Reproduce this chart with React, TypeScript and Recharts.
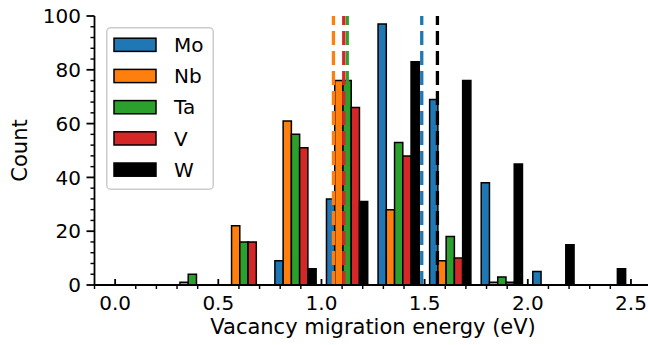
import React from 'react';
import { ComposedChart, Bar, XAxis, YAxis, ReferenceLine, Legend, Label } from 'recharts';

// ---- data ----
const binCenters = [0.375, 0.625, 0.875, 1.125, 1.375, 1.625, 1.875, 2.125, 2.375];
const moCounts = [0, 0, 9, 32, 97, 69, 38, 5, 0];
const nbCounts = [1, 22, 61, 76, 28, 9, 1, 0, 0];
const taCounts = [4, 16, 56, 76, 53, 18, 3, 0, 0];
const vCounts = [0, 16, 51, 66, 48, 10, 1, 0, 0];
const wCounts = [0, 0, 6, 31, 83, 76, 45, 15, 6];

const elements = ['Mo', 'Nb', 'Ta', 'V', 'W'];
const elementColors = ['#1f77b4', '#ff7f0e', '#2ca02c', '#d62728', '#000000'];
const meanEnergies = [1.486, 1.058, 1.125, 1.108, 1.562];

const xMajorTicks = [0, 0.5, 1, 1.5, 2, 2.5];
const xAllTicks = [
  -0.1, 0, 0.1, 0.2, 0.3, 0.4, 0.5, 0.6, 0.7, 0.8, 0.9, 1.0, 1.1, 1.2, 1.3, 1.4,
  1.5, 1.6, 1.7, 1.8, 1.9, 2.0, 2.1, 2.2, 2.3, 2.4, 2.5, 2.6,
];
const yAllTicks = [
  0, 4, 8, 12, 16, 20, 24, 28, 32, 36, 40, 44, 48, 52, 56, 60, 64, 68, 72, 76, 80,
  84, 88, 92, 96, 100,
];

const countsBySeries = [moCounts, nbCounts, taCounts, vCounts, wCounts];
const tableData = binCenters.map((c, i) => {
  const row: Record<string, number> = { energy: c };
  elements.forEach((el, k) => {
    row[el] = countsBySeries[k][i];
  });
  return row;
});

const FONT = 'DejaVu Sans, Verdana, sans-serif';
const TICK_FONT = 20;
const LABEL_FONT = 21;
const SPINE_W = 1.8;

const isXMajor = (v: number) => xMajorTicks.some((m) => Math.abs(m - v) < 1e-6);
const fmtX = (v: number) => v.toFixed(1);

const XTick = (props: any) => {
  const { x, y, payload } = props;
  const v = Number(payload.value);
  if (isXMajor(v)) {
    return (
      <g>
        <line x1={x} x2={x} y1={y} y2={y - 6} stroke="#000" strokeWidth={SPINE_W} />
        <text x={x} y={y + 24.5} textAnchor="middle" fontSize={TICK_FONT} fontFamily={FONT} fill="#000">
          {fmtX(v)}
        </text>
      </g>
    );
  }
  return <line x1={x} x2={x} y1={y} y2={y + 4} stroke="#000" strokeWidth={SPINE_W * 0.8} />;
};

const TopTick = (props: any) => {
  const { x, y } = props;
  return <line x1={x} x2={x} y1={y} y2={y + 6} stroke="#000" strokeWidth={SPINE_W} />;
};

const YTick = (props: any) => {
  const { x, y, payload } = props;
  const v = Number(payload.value);
  if (v % 20 === 0) {
    return (
      <g>
        <line x1={x - 8} x2={x} y1={y} y2={y} stroke="#000" strokeWidth={SPINE_W} />
        <text x={x - 13.5} y={y + 7.2} textAnchor="end" fontSize={TICK_FONT} fontFamily={FONT} fill="#000">
          {v}
        </text>
      </g>
    );
  }
  return <line x1={x - 4} x2={x} y1={y} y2={y} stroke="#000" strokeWidth={SPINE_W * 0.8} />;
};

const XLabel = (props: any) => {
  const vb = props.viewBox || { x: 94.5, y: 285, width: 557, height: 50 };
  return (
    <text
      x={vb.x + vb.width / 2}
      y={vb.y + 49}
      textAnchor="middle"
      fontSize={LABEL_FONT}
      fontFamily={FONT}
      fill="#000"
    >
      Vacancy migration energy (eV)
    </text>
  );
};

const YLabel = (props: any) => {
  const vb = props.viewBox || { x: 34.5, y: 16, width: 60, height: 269 };
  const cx = vb.x - 7.8;
  const cy = vb.y + vb.height / 2;
  return (
    <text
      x={cx}
      y={cy}
      transform={`rotate(-90, ${cx}, ${cy})`}
      textAnchor="middle"
      fontSize={LABEL_FONT}
      fontFamily={FONT}
      fill="#000"
    >
      Count
    </text>
  );
};

const LegendBox = () => {
  const w = 108;
  const h = 163;
  return (
    <svg width={w} height={h} style={{ display: 'block' }}>
      <rect x={0.75} y={0.75} width={w - 1.5} height={h - 1.5} rx={4} ry={4} fill="rgba(255,255,255,0.8)" stroke="#cccccc" strokeWidth={1.5} />
      {elements.map((el, i) => {
        const cy = 17.8 + i * 31.2;
        return (
          <g key={el}>
            <rect x={8} y={cy - 6.6} width={42} height={13.2} fill={elementColors[i]} stroke="#000" strokeWidth={1.5} />
            <text x={68} y={cy + 7.2} fontSize={TICK_FONT} fontFamily={FONT} fill="#000">
              {el}
            </text>
          </g>
        );
      })}
    </svg>
  );
};

export default function App() {
  const chartWidth = 680;
  const plotRight = 651.6;
  return (
    <div
      style={{
        position: 'absolute',
        left: 0,
        top: 0,
        width: 648,
        height: 345,
        overflow: 'hidden',
        background: '#fff',
        fontFamily: FONT,
      }}
    >
      <ComposedChart
        width={chartWidth}
        height={345}
        data={tableData}
        margin={{ top: 16, right: chartWidth - plotRight, bottom: 10, left: 34.5 }}
        barGap={0}
      >
        <XAxis
          xAxisId="main"
          dataKey="energy"
          type="number"
          domain={[-0.1, 2.6]}
          allowDataOverflow
          ticks={xAllTicks}
          interval={0}
          tickSize={0}
          tickMargin={0}
          tickLine={false}
          axisLine={{ stroke: '#000', strokeWidth: SPINE_W }}
          height={50}
          tick={<XTick />}
        >
          <Label content={<XLabel />} />
        </XAxis>
        <XAxis
          xAxisId="top"
          orientation="top"
          type="number"
          domain={[-0.1, 2.6]}
          allowDataOverflow
          ticks={xMajorTicks}
          interval={0}
          tickSize={0}
          tickMargin={0}
          tickLine={false}
          axisLine={{ stroke: '#000', strokeWidth: SPINE_W }}
          height={0}
          tick={<TopTick />}
        />
        <YAxis
          yAxisId="main"
          type="number"
          domain={[0, 100]}
          allowDataOverflow
          ticks={yAllTicks}
          interval={0}
          tickSize={0}
          tickMargin={0}
          tickLine={false}
          axisLine={{ stroke: '#000', strokeWidth: SPINE_W }}
          width={60}
          tick={<YTick />}
        >
          <Label content={<YLabel />} />
        </YAxis>
        {elements.map((el, i) => (
          <Bar
            key={el}
            xAxisId="main"
            yAxisId="main"
            dataKey={el}
            fill={elementColors[i]}
            stroke="#000"
            strokeWidth={1.5}
            barSize={8.25}
            isAnimationActive={false}
          />
        ))}
        {elements.map((el, i) => (
          <ReferenceLine
            key={`mean-${el}`}
            xAxisId="main"
            yAxisId="main"
            x={meanEnergies[i]}
            stroke={elementColors[i]}
            strokeWidth={3.3}
            strokeDasharray="14 6"
          />
        ))}
        <Legend
          layout="vertical"
          align="center"
          verticalAlign="middle"
          wrapperStyle={{ left: 106, top: 26.5, width: 108, height: 163, margin: 0, padding: 0, lineHeight: 0 }}
          content={() => <LegendBox />}
        />
      </ComposedChart>
    </div>
  );
}
